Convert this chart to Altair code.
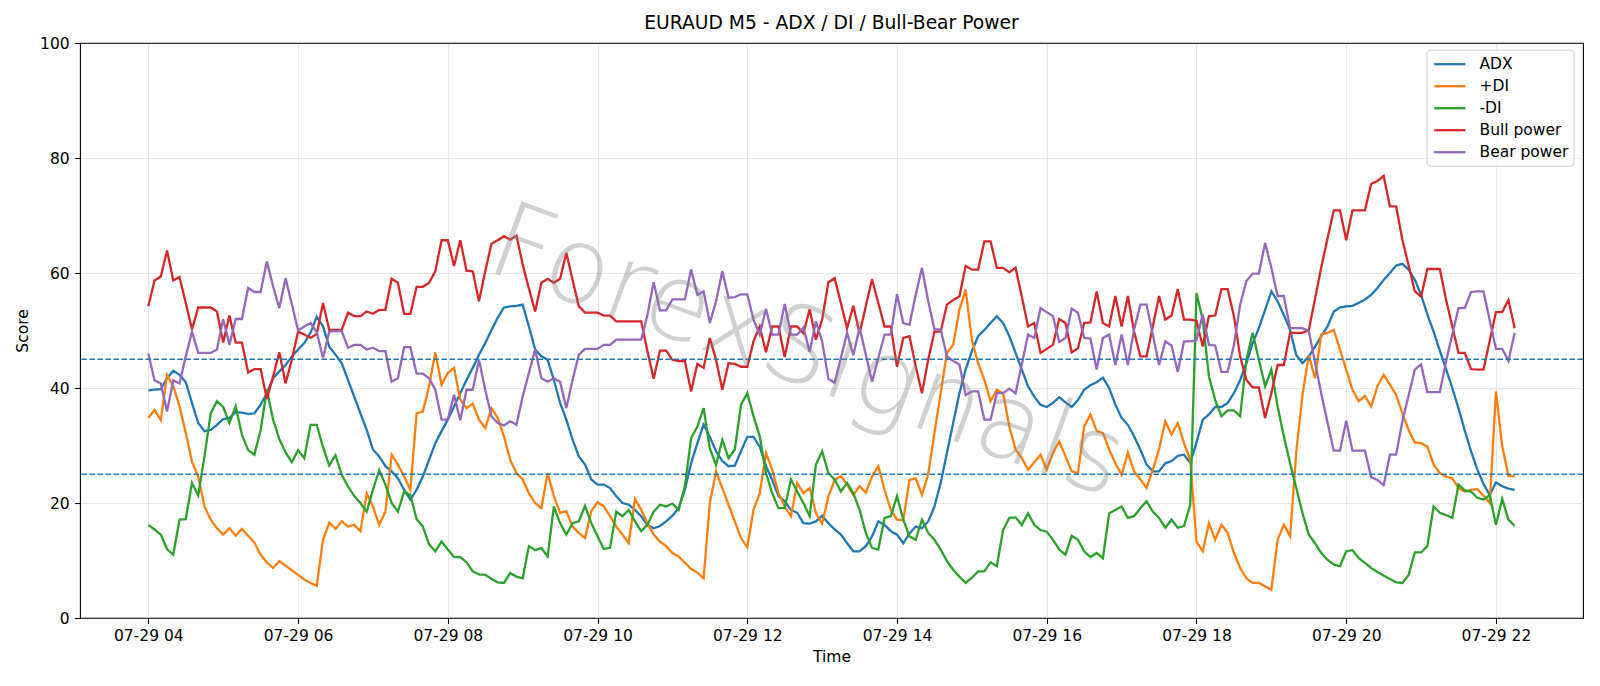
import altair as alt
import pandas as pd

# 5-minute bars, 07-29 04:00 .. 22:15
times = pd.date_range("2025-07-29 04:00", periods=220, freq="5min").strftime("%Y-%m-%dT%H:%M:%S").tolist()

adx = [
    39.6, 39.7, 39.8, 41.7, 43.0, 42.3, 41.0, 37.4, 33.9, 32.5,
    32.7, 33.6, 34.6, 34.8, 35.8, 35.7, 35.5, 35.6, 37.1, 39.1,
    41.7, 42.9, 44.0, 45.5, 46.7, 47.8, 49.6, 52.4, 50.7, 47.2,
    45.8, 44.3, 41.4, 38.5, 35.6, 32.7, 29.3, 28.1, 26.4, 25.5,
    24.3, 22.3, 20.6, 22.3, 24.6, 27.5, 30.4, 32.5, 34.5, 36.8,
    39.1, 41.4, 43.5, 45.8, 47.8, 50.1, 52.2, 54.0, 54.2, 54.3,
    54.5, 50.7, 46.7, 45.5, 44.9, 41.4, 37.4, 34.5, 31.0, 28.1,
    26.7, 24.1, 23.2, 23.2, 22.6, 21.2, 20.0, 19.7, 18.8, 17.7,
    16.2, 15.6, 16.0, 16.8, 17.8, 19.1, 22.3, 26.9, 30.4, 33.6,
    31.5, 29.0, 27.3, 26.4, 26.5, 29.0, 31.5, 31.5, 29.8, 26.4,
    24.0, 21.2, 20.3, 18.8, 18.3, 16.5, 16.4, 16.8, 17.8, 16.5,
    15.4, 14.5, 13.0, 11.6, 11.6, 12.5, 14.2, 16.8, 16.2, 15.1,
    14.5, 13.0, 14.7, 15.9, 15.6, 16.8, 19.4, 23.5, 28.7, 33.9,
    39.1, 43.2, 46.4, 49.0, 50.1, 51.3, 52.5, 51.3, 49.0, 46.1,
    43.2, 40.3, 38.5, 37.1, 36.7, 37.4, 38.4, 37.5, 36.7, 37.9,
    39.7, 40.5, 41.0, 41.8, 40.0, 37.1, 34.8, 33.6, 31.6, 29.3,
    26.7, 25.5, 25.5, 26.9, 27.3, 28.2, 28.4, 27.0, 30.5, 34.5,
    35.4, 36.7, 36.7, 37.4, 39.1, 41.4, 44.3, 47.8, 50.4, 53.6,
    56.8, 55.1, 52.7, 50.1, 45.7, 44.3, 45.5, 47.2, 49.0, 50.7,
    53.3, 54.0, 54.2, 54.3, 54.8, 55.4, 56.2, 57.4, 58.8, 60.0,
    61.3, 61.6, 60.6, 58.8, 56.2, 52.8, 49.8, 46.5, 43.3, 40.0,
    36.4, 32.6, 29.0, 25.9, 23.3, 21.4, 23.6, 22.9, 22.5, 22.3,
]

plus_di = [
    34.8, 36.2, 34.4, 42.3, 40.3, 36.8, 32.2, 27.2, 24.6, 19.4,
    17.1, 15.6, 14.5, 15.6, 14.3, 15.5, 14.3, 13.1, 11.0, 9.7,
    8.7, 9.9, 9.1, 8.3, 7.5, 6.7, 6.1, 5.6, 13.6, 16.6,
    15.5, 16.8, 15.9, 16.2, 15.1, 21.7, 19.4, 16.2, 18.5, 28.4,
    26.7, 24.6, 22.3, 35.6, 35.9, 40.3, 46.2, 40.6, 42.6, 43.5,
    38.0, 36.5, 37.3, 34.5, 33.0, 36.5, 34.8, 31.6, 27.5, 25.2,
    24.1, 21.7, 20.0, 19.1, 25.2, 21.2, 18.3, 18.6, 15.9, 14.8,
    13.9, 18.6, 20.1, 19.4, 17.7, 15.9, 14.5, 13.0, 20.7, 18.8,
    16.5, 14.5, 13.3, 12.5, 11.3, 10.7, 9.6, 8.5, 7.9, 6.9,
    20.0, 25.5, 22.6, 19.7, 16.8, 13.9, 12.3, 18.8, 21.7, 28.7,
    25.8, 21.7, 19.4, 17.7, 23.5, 21.7, 22.6, 18.3, 16.4, 21.1,
    24.0, 24.7, 23.2, 21.4, 22.9, 21.8, 24.6, 26.4, 22.3, 18.8,
    17.1, 17.0, 24.0, 24.3, 21.4, 25.0, 32.2, 39.1, 46.1, 47.5,
    53.6, 57.1, 48.4, 44.3, 41.4, 37.7, 39.7, 39.1, 33.3, 29.3,
    27.8, 25.8, 27.1, 28.4, 25.8, 28.7, 30.7, 28.1, 25.5, 25.2,
    33.3, 35.4, 32.5, 32.2, 29.3, 26.9, 24.9, 28.8, 25.5, 24.1,
    22.6, 25.8, 29.3, 34.2, 31.9, 33.9, 30.4, 27.5, 13.3, 11.6,
    16.5, 13.6, 16.2, 14.8, 11.3, 8.7, 6.9, 6.1, 6.1, 5.5,
    4.9, 13.6, 16.2, 14.2, 29.0, 38.9, 45.7, 41.7, 49.3, 49.6,
    50.1, 46.7, 43.2, 39.7, 37.7, 38.6, 36.8, 40.3, 42.3, 40.6,
    38.8, 35.6, 32.7, 30.5, 30.4, 29.8, 26.7, 25.2, 24.6, 24.3,
    22.6, 22.0, 22.3, 22.4, 21.3, 20.0, 39.4, 29.9, 24.7, 24.7,
]

minus_di = [
    16.2, 15.4, 14.5, 12.0, 11.0, 17.1, 17.2, 23.5, 21.3, 28.1,
    35.6, 37.7, 36.7, 33.9, 36.8, 31.9, 29.2, 28.4, 32.7, 39.7,
    34.5, 31.1, 28.8, 27.1, 29.2, 27.8, 33.6, 33.6, 29.7, 26.5,
    28.3, 24.9, 22.9, 21.2, 20.0, 18.5, 22.3, 25.7, 23.2, 20.0,
    18.5, 22.0, 21.4, 17.2, 15.9, 12.8, 11.6, 13.3, 11.9, 10.6,
    10.6, 9.7, 8.1, 7.6, 7.5, 6.8, 6.2, 6.1, 7.8, 7.2,
    6.9, 12.5, 11.8, 12.2, 10.7, 19.4, 16.5, 14.5, 16.5, 16.8,
    19.5, 16.5, 14.2, 12.0, 12.2, 18.5, 17.7, 18.8, 16.8, 15.1,
    16.2, 18.5, 19.7, 19.4, 19.9, 18.8, 22.9, 31.3, 33.3, 36.5,
    29.5, 26.6, 31.0, 27.8, 29.3, 37.1, 39.1, 35.1, 31.6, 25.2,
    21.7, 19.1, 19.1, 24.1, 22.0, 20.0, 17.7, 26.7, 29.0, 25.2,
    24.1, 22.0, 23.5, 21.7, 18.8, 14.8, 12.2, 11.9, 17.4, 17.7,
    21.2, 17.1, 14.2, 13.6, 17.1, 14.8, 13.6, 11.9, 9.9, 8.4,
    7.2, 6.1, 7.0, 8.1, 8.1, 9.7, 9.0, 15.3, 17.4, 17.5,
    16.2, 18.2, 16.2, 15.3, 15.0, 13.6, 11.9, 11.0, 14.3, 13.6,
    11.6, 10.6, 11.3, 10.4, 18.2, 18.8, 19.4, 17.4, 17.7, 19.1,
    20.3, 18.5, 17.4, 15.7, 17.1, 15.7, 16.0, 19.7, 56.5, 51.9,
    42.0, 37.9, 35.1, 36.1, 36.1, 35.1, 44.9, 49.6, 44.9, 40.3,
    43.2, 36.8, 31.6, 26.9, 22.6, 18.2, 14.5, 13.0, 11.3, 10.1,
    9.3, 9.0, 11.6, 11.8, 10.4, 9.6, 8.7, 8.0, 7.4, 6.8,
    6.2, 6.1, 7.5, 11.4, 11.4, 12.5, 19.4, 18.3, 17.9, 17.4,
    23.2, 22.2, 22.0, 20.9, 20.6, 21.4, 16.2, 20.7, 17.1, 16.0,
]

bull_power = [
    54.2, 58.7, 59.4, 63.9, 58.7, 59.3, 54.8, 50.2, 54.0, 54.0,
    54.0, 53.3, 47.9, 52.6, 47.9, 47.9, 42.7, 43.3, 43.3, 38.1,
    42.0, 46.2, 40.8, 44.9, 49.8, 49.3, 48.7, 49.4, 54.8, 50.1,
    50.1, 50.1, 53.1, 52.5, 52.5, 53.3, 52.9, 53.6, 53.6, 59.0,
    58.3, 52.9, 52.9, 57.6, 57.6, 58.3, 60.3, 65.7, 65.7, 61.2,
    65.7, 60.4, 60.3, 55.1, 60.3, 65.1, 65.7, 66.4, 65.8, 66.5,
    61.5, 57.3, 53.3, 58.3, 59.0, 58.3, 59.0, 63.5, 58.8, 54.2,
    53.1, 53.1, 53.1, 52.6, 52.6, 51.6, 51.6, 51.6, 51.6, 51.6,
    46.4, 41.6, 46.5, 46.5, 44.9, 44.7, 44.7, 39.4, 44.2, 43.5,
    48.7, 44.9, 39.7, 44.3, 44.2, 43.7, 43.7, 48.1, 50.7, 46.2,
    50.7, 50.7, 45.4, 50.7, 50.7, 49.5, 53.7, 48.4, 51.9, 58.4,
    59.1, 54.8, 50.4, 54.3, 49.5, 54.2, 58.9, 54.8, 50.7, 50.7,
    43.7, 48.7, 49.0, 43.8, 39.1, 44.9, 49.8, 49.8, 54.5, 55.3,
    55.9, 61.2, 60.6, 60.6, 65.5, 65.5, 60.9, 60.9, 60.1, 60.9,
    55.9, 50.7, 51.3, 46.1, 46.8, 47.5, 52.0, 51.3, 46.2, 46.9,
    51.3, 51.4, 56.8, 51.3, 50.7, 56.0, 50.7, 56.0, 49.8, 45.5,
    45.5, 50.7, 56.0, 51.9, 52.6, 57.2, 51.9, 51.9, 51.7, 47.2,
    52.5, 52.6, 57.2, 57.2, 52.5, 45.5, 41.4, 40.1, 40.1, 34.8,
    39.1, 44.0, 44.0, 49.6, 49.6, 49.6, 50.1, 55.5, 61.0, 66.0,
    70.9, 70.9, 65.7, 70.9, 70.9, 70.9, 75.5, 76.0, 76.9, 71.6,
    71.6, 65.8, 61.3, 56.8, 55.9, 60.7, 60.7, 60.7, 55.4, 50.7,
    46.1, 46.1, 43.3, 43.2, 43.2, 48.2, 53.2, 53.2, 55.3, 50.4,
]

bear_power = [
    46.0, 41.3, 40.8, 35.9, 41.3, 40.8, 45.5, 49.8, 46.1, 46.1,
    46.1, 46.7, 52.0, 47.5, 52.0, 52.0, 57.4, 56.7, 56.7, 62.0,
    57.7, 53.9, 59.1, 54.6, 50.0, 50.7, 51.3, 49.7, 45.2, 49.8,
    49.9, 49.9, 47.0, 47.5, 47.5, 46.7, 47.0, 46.4, 46.4, 41.1,
    41.7, 47.1, 47.1, 42.5, 42.5, 41.7, 39.7, 34.5, 34.5, 38.8,
    34.4, 39.7, 39.7, 44.9, 39.7, 35.1, 33.9, 33.5, 34.2, 33.6,
    38.5, 42.6, 46.7, 41.7, 41.1, 41.7, 41.1, 36.5, 41.4, 45.8,
    46.8, 46.8, 46.8, 47.5, 47.5, 48.4, 48.4, 48.4, 48.4, 48.4,
    52.7, 58.4, 53.5, 53.5, 55.4, 55.4, 55.4, 60.6, 56.2, 56.8,
    51.3, 55.1, 60.3, 55.7, 55.8, 56.3, 56.3, 51.9, 49.3, 53.8,
    49.3, 49.3, 54.6, 49.3, 49.3, 50.5, 46.3, 51.6, 48.1, 41.6,
    40.9, 45.2, 49.6, 45.7, 50.5, 45.8, 41.1, 45.2, 49.3, 49.3,
    56.3, 51.3, 51.0, 56.2, 60.9, 55.1, 50.2, 50.2, 45.5, 44.7,
    44.1, 38.8, 39.4, 39.4, 34.5, 34.5, 39.1, 39.1, 39.9, 39.1,
    44.1, 49.3, 48.7, 53.9, 53.2, 52.5, 48.0, 48.7, 53.8, 53.1,
    48.7, 48.6, 43.2, 48.7, 49.3, 44.0, 49.3, 44.0, 50.2, 54.5,
    54.5, 49.3, 44.0, 48.1, 47.4, 42.8, 48.1, 48.1, 48.3, 52.8,
    47.5, 47.4, 42.8, 42.8, 47.5, 54.5, 58.6, 59.9, 59.9, 65.2,
    60.9, 56.0, 56.0, 50.4, 50.4, 50.4, 49.9, 44.5, 39.0, 34.0,
    29.1, 29.1, 34.3, 29.1, 29.1, 29.1, 24.5, 24.0, 23.1, 28.4,
    28.4, 34.2, 38.7, 43.2, 44.1, 39.3, 39.3, 39.3, 44.6, 49.3,
    53.9, 53.9, 56.7, 56.8, 56.8, 51.8, 46.8, 46.8, 44.7, 49.6,
]

series_names = ["ADX", "+DI", "-DI", "Bull power", "Bear power"]
series_colors = ["#1f77b4", "#ff7f0e", "#2ca02c", "#d62728", "#9467bd"]
thresholds = [45, 25]
tick_hours = [4, 6, 8, 10, 12, 14, 16, 18, 20, 22]
y_ticks = [0, 20, 40, 60, 80, 100]

all_series = [adx, plus_di, minus_di, bull_power, bear_power]
for s in all_series:
    assert len(s) == len(times)

rows = []
for k, (name, vals) in enumerate(zip(series_names, all_series)):
    for t, v in zip(times, vals):
        rows.append({"time": t, "series": name, "value": v, "k": k})
df = pd.DataFrame(rows)


def moment(h, m=0, s=0):
    return alt.DateTime(year=2025, month=7, date=29, hours=h, minutes=m, seconds=s)


FONT = "DejaVu Sans"

x_scale = alt.Scale(domain=[moment(3, 5, 15), moment(23, 9, 45)])
y_scale = alt.Scale(domain=[0, 100], nice=False, zero=False)

lines = alt.Chart(df).mark_line(strokeWidth=2.3, clip=True).encode(
    x=alt.X(
        "time:T",
        scale=x_scale,
        axis=alt.Axis(
            values=[moment(h) for h in tick_hours],
            format="%m-%d %H",
            title="Time",
            labelAngle=0,
            labelFlush=False,
            labelOverlap=False,
            labelPadding=5.4,
            titlePadding=5,
        ),
    ),
    y=alt.Y(
        "value:Q",
        scale=y_scale,
        axis=alt.Axis(values=y_ticks, title="Score", labelPadding=5.4, titlePadding=9),
    ),
    color=alt.Color(
        "series:N",
        scale=alt.Scale(domain=series_names, range=series_colors),
        sort=series_names,
        legend=alt.Legend(
            title=None,
            orient="none",
            legendX=1346.5,
            legendY=6.7,
            symbolType="M-0.85,0H3.05",
            symbolSize=256,
            symbolStrokeWidth=2.3,
            labelOffset=29,
            labelFontSize=15.5,
            labelFont=FONT,
            labelColor="black",
            rowPadding=4,
            padding=5,
            fillColor="rgba(255,255,255,0.8)",
            strokeColor="#cccccc",
            cornerRadius=3.5,
        ),
    ),
    order=alt.Order("k:Q"),
)

rules = alt.Chart(pd.DataFrame({"level": thresholds})).mark_rule(
    color="#1f77b4", strokeWidth=1.5, strokeDash=[5.5, 2.5]
).encode(y=alt.Y("level:Q", scale=y_scale))

# light diagonal watermark across the plot
watermark = alt.Chart(pd.DataFrame({"label": ["ForexSignals"]})).mark_text(
    font=FONT,
    fontSize=106,
    fontWeight=200,
    angle=20,
    color="#808080",
    opacity=0.36,
    align="center",
    baseline="middle",
).encode(
    x=alt.XDatum(moment(12, 48), type="temporal"),
    y=alt.YDatum(46, type="quantitative"),
    text="label:N",
)

chart = alt.layer(lines, rules, watermark).properties(
    width=1503,
    height=575,
    background="white",
    title=alt.TitleParams(
        text="EURAUD M5 - ADX / DI / Bull-Bear Power",
        font=FONT,
        fontSize=18.7,
        fontWeight="normal",
        color="black",
        anchor="middle",
        frame="group",
        baseline="alphabetic",
        offset=12.8,
        dy=24.5,
    ),
    autosize=alt.AutoSizeParams(type="none"),
    padding={"left": 80, "top": 43, "right": 17, "bottom": 68},
).configure_axis(
    labelFont=FONT,
    labelFontSize=15.5,
    labelColor="black",
    titleFont=FONT,
    titleFontSize=15.5,
    titleFontWeight="normal",
    titleColor="black",
    tickColor="black",
    tickSize=5.4,
    tickWidth=1.1,
    domain=False,
    grid=True,
    gridColor="#b0b0b0",
    gridOpacity=0.3,
    gridWidth=1.1,
).configure_view(
    stroke="black", strokeWidth=1.1
)

chart.save("out.html", embed_options={"renderer": "svg", "actions": False})
